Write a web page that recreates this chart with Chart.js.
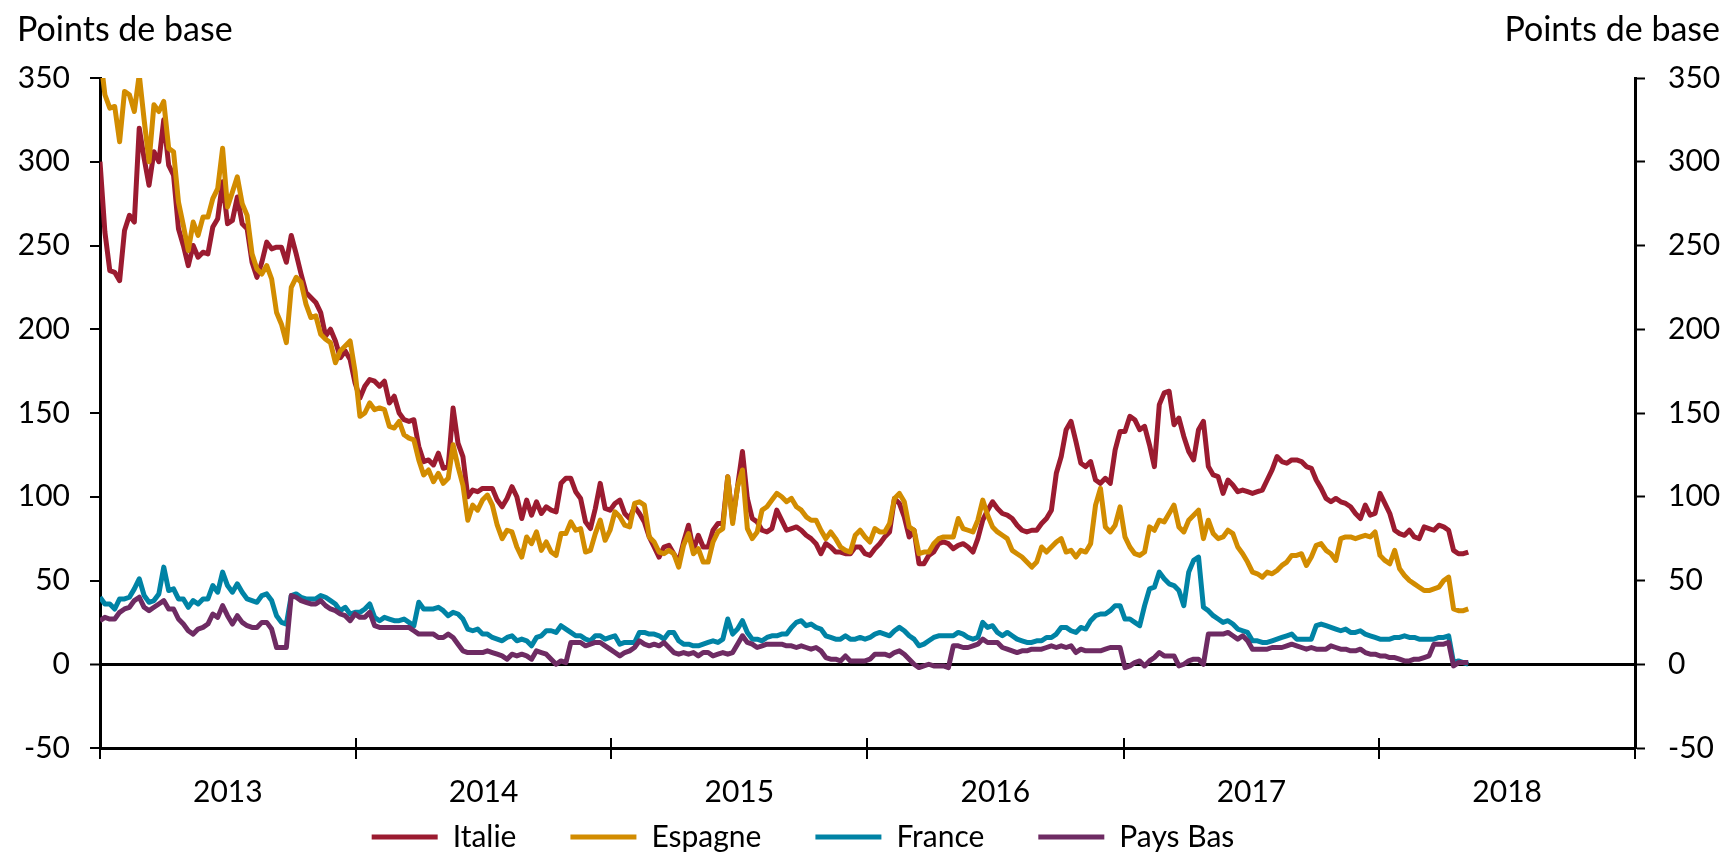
<!DOCTYPE html>
<html lang="fr">
<head>
<meta charset="utf-8">
<title>Points de base</title>
<script src="https://cdn.jsdelivr.net/npm/chart.js@4.4.1/dist/chart.umd.min.js"></script>
<style>
  html, body { margin: 0; padding: 0; background: #fff; }
  canvas { display: block; }
</style>
</head>
<body>
<canvas id="spreadChart" width="1728" height="855"></canvas>
<script>
// weekly spreads vs Bund, in basis points
const seriesNames = ['Italie', 'Espagne', 'France', 'Pays Bas'];
const yearLabels = ['2013', '2014', '2015', '2016', '2017', '2018'];
const yTicks = [-50, 0, 50, 100, 150, 200, 250, 300, 350];

const italie = [
  300,258,235,234,229,259,268,264,320,302, 286,306,300,325,298,292,260,250,238,250,
  243,246,245,261,266,288,263,265,279,263, 260,240,231,240,252,248,249,249,240,256,
  245,233,222,219,216,210,196,200,193,183, 187,182,168,159,
  166,170,169,166,169,156,160,150,146,145, 146,130,121,122,119,126,117,118,153,132,
  124,100,104,103,105,105,105,98,94,99, 106,100,87,98,89,97,90,94,92,91,
  108,111,111,103,99,85,81,93,108,93, 92,96,98,90,87,
  94,90,85,76,70,64,70,71,66,61, 73,83,68,77,70,70,80,84,84,112,
  86,106,127,99,87,85,80,79,81,92, 86,80,81,82,80,77,75,72,66,72,
  70,67,67,66,66,70,70,66,65,69, 72,
  76,79,99,96,88,76,80,60,60,65, 67,72,73,72,69,71,72,70,67,75,
  86,92,97,93,90,89,87,83,80,79,
  80,80,84,87,92,114,124,140,145,133, 120,118,121,110,108,111,108,128,139,139,
  148,146,140,142,131,118,155,162,163,143, 147,136,127,122,140,145,118,113,112,102,
  110,107,103,104,103,102,103,104,110,116, 124,121,120,122,122,
  121,118,117,110,105,99,97,99,97,96, 94,90,87,95,89,90,
  102,96,90,80,78,77,80,76,75,82, 81,80,83,82,80,68,66,66,67
];

const espagne = [
  365,340,332,333,312,342,340,330,352,325, 300,334,330,336,308,306,276,262,247,264,
  256,267,267,278,284,308,273,282,291,275, 268,245,236,233,238,230,210,203,192,225,
  231,228,215,207,208,197,194,192,180,187, 190,193,175,148,
  150,156,152,153,152,142,141,145,137,135, 134,122,113,116,109,114,108,111,131,118,
  107,86,95,92,98,101,95,83,75,80, 79,70,64,76,72,79,68,73,67,65,
  78,78,85,80,81,67,68,78,86,74, 80,91,88,83,82,
  96,97,95,76,73,67,66,68,66,58, 71,78,66,69,61,61,73,79,81,112,
  84,106,116,81,75,79,92,94,98,102, 100,97,99,94,92,88,86,86,80,75,
  79,75,70,68,67,77,80,76,73,81, 79,
  79,84,99,102,97,82,80,66,67,67, 72,75,76,76,76,87,81,80,79,86,
  98,89,82,79,77,75,68,66,64,61, 58,61,70,67,70,73,75,67,68,64,
  68,67,72,95,105,82,79,83,94,76, 70,66,65,
  67,82,80,86,85,90,95,82,79,86, 89,92,75,86,78,75,76,80,78,70,
  66,61,55,54,52,55,54,56,59,61, 65,65,66,59,64,71,72,68,66,62,
  75,76,76,75,76,77,76,79,65,62, 60,68,57,53,50,48,46,44,44,45,
  46,50,52,33,32,32,33
];

const france = [
  40,36,36,33,39,39,40,45,51,41, 37,38,42,58,44,45,39,39,34,38,
  36,39,39,47,43,55,47,43,48,43, 39,38,37,41,42,38,29,25,24,41,
  42,40,39,39,39,41,40,38,36,32, 34,30,31,31,33,36,28,26,28,27,
  26,26,27,25,23,37,33,33,33,34, 32,29,31,30,27,21,20,21,18,
  18,16,15,14,16,17,14,15,14,11, 16,17,20,20,19,23,21,19,17,17,
  15,14,17,17,15,16,17,12,13,13, 13,19,19,18,18,17,15,19,19,14,
  12,12,11,11,12,13,14,13,15,27, 18,21,26,19,15,15,14,16,17,17,
  18,18,22,25,26,23,24,22,21,17, 16,15,15,17,15,15,16,15,
  16,18,19,18,17,20,22,20,17,15, 11,12,14,16,17,17,17,17,19,18,
  16,15,16,25,22,23,19,17,19,17, 15,14,13,13,14,14,16,16,18,22,
  22,20,19,22,21,26,29,30,30,32, 35,35,27,27,25,23,35,45,46,55,
  51,48,47,44,35,55,62,64,34,32, 29,27,25,26,24,21,20,19,14,
  14,13,13,14,15,16,17,18,15,15, 15,15,23,24,23,22,21,20,21,19,
  19,20,18,17,16,
  15,15,15,16,16,17,16,16,15,15, 15,15,16,16,17,1,2,1,0
];

const paysBas = [
  26,28,27,27,31,33,34,38,40,34, 32,34,36,38,33,33,27,24,20,18,
  21,22,24,30,28,35,29,24,29,25, 23,22,22,25,25,21,10,10,10,41,
  40,38,37,36,36,38,35,33,32,30, 29,26,30,28,28,31,23,22,22,22,
  22,22,22,22,20,18,18,18,18,16, 16,18,16,12,8,7,7,7,7,
  8,7,6,5,3,6,5,6,5,3, 8,7,6,3,0,2,1,13,13,13,
  11,12,13,13,11,9,7,5,7,8, 10,14,12,11,12,11,13,10,7,6,
  7,6,7,5,7,7,5,6,7,6, 7,12,17,13,12,10,11,12,12,12,
  12,11,11,10,11,10,9,10,8,4, 3,3,2,5,2,2,2,2,
  3,6,6,6,5,7,8,6,3,0, -2,-1,0,-1,-1,-1,-2,11,11,10,
  10,11,12,15,13,13,13,10,9,8, 7,8,8,9,9,9,10,11,10,11,
  10,11,7,9,8,8,8,8,9,10, 10,10,-2,-1,1,2,-1,2,4,7,
  5,5,5,-1,0,2,3,3,0,18, 18,18,18,19,17,15,17,14,9,
  9,9,9,10,10,10,11,12,11,10, 9,10,9,9,9,11,10,9,9,8,
  8,9,7,6,6,
  5,5,4,4,3,2,2,3,3,4, 5,12,12,12,13,-1,1,1,1
];

const colors = ['#9b1b30', '#d28c00', '#0083a5', '#6e2b63'];

// weekly observations from the first week of 2013
const DAY = 86400000;
const firstWeek = Date.UTC(2013, 0, 1);
const weeks = italie.map((_, i) => firstWeek + i * 7 * DAY);

const yearStarts = [2013, 2014, 2015, 2016, 2017, 2018, 2019].map(y => Date.UTC(y, 0, 1));
const yearMids = yearLabels.map((_, k) => (yearStarts[k] + yearStarts[k + 1]) / 2);

const FONT = { family: 'Lato, "Open Sans", sans-serif', size: 30 };
const LEGEND_GAP = 54;

// unit labels above both axes + year tick marks crossing the x axis
const decorations = {
  id: 'decorations',
  afterLayout(chart) {
    // legend sits a little left of centre in the original,
    // and its wide item spacing also pads the row downwards
    const lg = chart.legend;
    lg.left -= 61;
    lg.right -= 61;
    lg.top -= LEGEND_GAP - 10;
  },
  afterDraw(chart) {
    const { ctx, chartArea } = chart;
    const xs = chart.scales.x;
    ctx.save();
    ctx.fillStyle = '#000';
    ctx.font = `34px ${FONT.family}`;
    ctx.textBaseline = 'alphabetic';
    ctx.textAlign = 'left';
    ctx.fillText('Points de base', 17, 41);
    ctx.textAlign = 'right';
    ctx.fillText('Points de base', 1720, 41);

    ctx.strokeStyle = '#000';
    ctx.lineWidth = 2;
    yearStarts.forEach(v => {
      const x = Math.round(xs.getPixelForValue(v));
      ctx.beginPath();
      ctx.moveTo(x, chartArea.bottom - 10);
      ctx.lineTo(x, chartArea.bottom + 11);
      ctx.stroke();
    });
    ctx.restore();
  }
};

const makeDataset = (label, data, color, order) => ({
  label,
  data,
  borderColor: color,
  backgroundColor: color,
  borderWidth: 5,
  pointRadius: 0,
  tension: 0,
  borderJoinStyle: 'round',
  order
});

new Chart(document.getElementById('spreadChart'), {
  type: 'line',
  data: {
    labels: weeks,
    datasets: [
      makeDataset(seriesNames[0], italie, colors[0], 4),
      makeDataset(seriesNames[1], espagne, colors[1], 3),
      makeDataset(seriesNames[2], france, colors[2], 2),
      makeDataset(seriesNames[3], paysBas, colors[3], 1)
    ]
  },
  options: {
    responsive: false,
    animation: false,
    layout: { padding: { top: 78, left: 0, right: 0, bottom: 0 } },
    scales: {
      x: {
        type: 'linear',
        min: yearStarts[0],
        max: yearStarts[yearStarts.length - 1],
        afterBuildTicks: scale => { scale.ticks = yearMids.map(v => ({ value: v })); },
        afterFit: scale => { scale.height = 64; },
        grid: { display: false, drawTicks: false },
        border: { display: true, color: '#000', width: 3 },
        ticks: {
          callback: (value, index) => yearLabels[index],
          autoSkip: false,
          maxRotation: 0,
          padding: 26,
          color: '#000',
          font: FONT
        }
      },
      y: {
        position: 'left',
        min: -50,
        max: 350,
        afterBuildTicks: scale => { scale.ticks = yTicks.map(v => ({ value: v })); },
        afterFit: scale => { scale.width = 100; },
        grid: {
          drawOnChartArea: true,
          color: ctx => (ctx.tick && ctx.tick.value === 0 ? '#000' : 'rgba(0,0,0,0)'),
          lineWidth: ctx => (ctx.tick && ctx.tick.value === 0 ? 3 : 0),
          tickColor: '#000',
          tickWidth: 2,
          tickLength: 10
        },
        border: { display: true, color: '#000', width: 3 },
        ticks: { padding: 20, color: '#000', font: FONT }
      },
      y2: {
        position: 'right',
        min: -50,
        max: 350,
        afterBuildTicks: scale => { scale.ticks = yTicks.map(v => ({ value: v })); },
        afterFit: scale => { scale.width = 93; },
        grid: {
          drawOnChartArea: false,
          tickColor: '#000',
          tickWidth: 2,
          tickLength: 10
        },
        border: { display: true, color: '#000', width: 3 },
        ticks: { padding: 23, color: '#000', font: FONT }
      }
    },
    plugins: {
      legend: {
        position: 'bottom',
        maxHeight: 43,
        labels: {
          boxWidth: 66,
          boxHeight: 5,
          padding: LEGEND_GAP,
          color: '#000',
          font: FONT,
          sort: (a, b) => a.datasetIndex - b.datasetIndex,
          // plain line sample: no outline around the swatch
          generateLabels: chart => Chart.defaults.plugins.legend.labels
            .generateLabels(chart)
            .map(item => ({ ...item, lineWidth: 0 }))
        }
      },
      tooltip: { enabled: false }
    }
  },
  plugins: [decorations]
});
</script>
</body>
</html>
